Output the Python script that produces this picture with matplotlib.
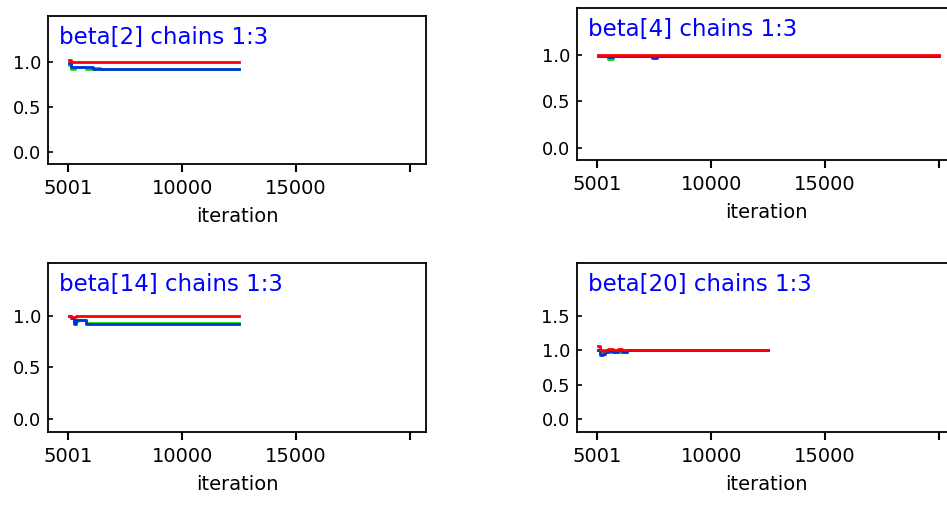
import matplotlib
matplotlib.use("Agg")
import matplotlib.pyplot as plt

# Brooks-Gelman-Rubin traces (red = ratio, green = pooled width, blue = within width)
b2_iter = [5050, 5150, 5300, 5500, 5800, 6100, 6400, 12500]
b2_red = [1.02, 1.00, 1.00, 1.00, 1.00, 1.00, 1.00, 1.00]
b2_green = [0.97, 0.92, 0.94, 0.94, 0.925, 0.93, 0.92, 0.92]
b2_blue = [0.99, 0.94, 0.94, 0.94, 0.94, 0.92, 0.92, 0.92]

b4_iter = [5050, 5300, 5500, 5700, 7400, 7650, 8000, 20000]
b4_red = [1.00, 1.00, 1.00, 1.00, 1.00, 1.00, 1.00, 1.00]
b4_green = [0.99, 0.985, 0.96, 0.985, 0.985, 0.985, 0.985, 0.985]
b4_blue = [0.985, 0.985, 0.98, 0.985, 0.97, 0.985, 0.985, 0.985]

b14_iter = [5050, 5150, 5250, 5350, 5450, 5650, 5800, 12500]
b14_red = [1.00, 0.985, 0.985, 1.00, 1.00, 1.00, 1.00, 1.00]
b14_green = [1.00, 0.98, 0.95, 0.945, 0.96, 0.96, 0.925, 0.925]
b14_blue = [1.00, 0.975, 0.92, 0.96, 0.96, 0.955, 0.922, 0.922]

b20_iter = [5050, 5150, 5250, 5350, 5500, 5700, 5900, 6100, 6300, 12500]
b20_red = [1.06, 1.01, 0.99, 1.00, 1.02, 1.00, 1.02, 1.00, 1.00, 1.00]
b20_green = [1.00, 0.97, 0.95, 0.97, 0.97, 0.98, 0.98, 0.97, 1.00, 1.00]
b20_blue = [1.00, 0.93, 0.95, 0.98, 0.99, 0.98, 1.00, 0.98, 1.00, 1.00]

x_ticks = [5001, 10000, 15000, 20000]
x_ticklabels = ["5001", "10000", "15000", ""]

W, H = 947, 508


def _px_box(left, top, right, bottom):
    return [left / W, 1 - bottom / H, (right - left) / W, (bottom - top) / H]


def _panel(fig, box, it, red, green, blue, title, ylim, yticks):
    ax = fig.add_axes(_px_box(*box))
    ax.plot(it, green, color="#00dd00", lw=2.0, drawstyle="steps-post")
    ax.plot(it, blue, color="#0033dd", lw=2.0, drawstyle="steps-post")
    ax.plot(it, red, color="#ff0000", lw=2.0, drawstyle="steps-post")
    ax.set_xlim(4125, 20690)
    ax.set_ylim(*ylim)
    ax.set_xticks(x_ticks)
    ax.set_xticklabels(x_ticklabels, fontsize=14)
    ax.set_yticks(yticks)
    ax.set_yticklabels([f"{v:.1f}" for v in yticks], fontsize=13)
    ax.tick_params(axis="x", direction="out", length=6, width=1.5, pad=5)
    ax.tick_params(axis="y", direction="in", length=3.5, width=1.2, pad=5)
    for sp in ax.spines.values():
        sp.set_linewidth(1.3)
    ax.set_xlabel("iteration", fontsize=14, labelpad=6)
    ax.annotate(title, xy=(0, 1), xycoords="axes fraction",
                xytext=(8, -7), textcoords="offset points",
                ha="left", va="top", fontsize=16.5, color="#0000ff")
    return ax


fig = plt.figure(figsize=(W / 100, H / 100), dpi=100)
yt3 = [0.0, 0.5, 1.0]
_panel(fig, (48, 16, 426, 164), b2_iter, b2_red, b2_green, b2_blue,
       "beta[2] chains 1:3", (-0.13, 1.51), yt3)
_panel(fig, (577, 8, 955, 160), b4_iter, b4_red, b4_green, b4_blue,
       "beta[4] chains 1:3", (-0.13, 1.505), yt3)
_panel(fig, (48, 263, 426, 432), b14_iter, b14_red, b14_green, b14_blue,
       "beta[14] chains 1:3", (-0.126, 1.51), yt3)
_panel(fig, (577, 263, 955, 432), b20_iter, b20_red, b20_green, b20_blue,
       "beta[20] chains 1:3", (-0.19, 2.27), [0.0, 0.5, 1.0, 1.5])

fig.savefig("out.png", dpi=100)
